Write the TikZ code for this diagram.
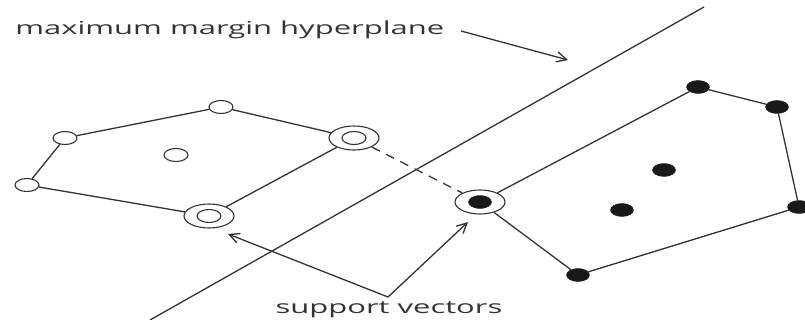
\documentclass[tikz,border=0pt]{standalone}
\usepackage{fontspec}
\setmainfont{Open Sans}
\usetikzlibrary{shapes.geometric,arrows.meta}
\begin{document}
\begin{tikzpicture}[x=1pt,y=-1pt,
  ln/.style={draw=black!80, line width=1.3pt},
  opn/.style={ellipse, draw=black!80, line width=1.1pt, minimum width=24pt, minimum height=13pt, inner sep=0pt},
  fil/.style={ellipse, fill=black!90, draw=black!90, minimum width=23pt, minimum height=13pt, inner sep=0pt},
  ring/.style={ellipse, draw=black!80, line width=1.1pt, minimum width=50pt, minimum height=24pt, inner sep=0pt},
  lbl/.style={font=\fontsize{18}{20}\selectfont, text=black!80, xscale=1.72, inner sep=0pt},
  arr/.style={draw=black!80, line width=1.3pt, -{Straight Barb[length=10pt,width=10pt]}}
]
\useasboundingbox (0,0) rectangle (805,320);
\clip (0,0) rectangle (805,320);
% hyperplane
\coordinate (h1) at (150,320);
\coordinate (h2) at (704,7);
\draw[ln] (h1) -- (h2);
% left class (open points)
\node[opn] (A) at (65,138) {};
\node[opn] (B) at (221,107) {};
\node[opn] (Ci) at (354,138) {};
\node[ring] (C) at (354,138) {};
\node[opn] (Di) at (209,216) {};
\node[ring] (D) at (209,216) {};
\node[opn] (E) at (27,185) {};
\node[opn] (L1) at (176,155) {};
\draw[ln] (E) -- (A) -- (B) -- (C) -- (D) -- (E);
% right class (filled points)
\node[fil] (F) at (698,87) {};
\node[fil] (G) at (777,107) {};
\node[fil] (H) at (799,207) {};
\node[fil] (I) at (578,275) {};
\node[fil] (Ji) at (480,202) {};
\node[ring] (J) at (480,202) {};
\node[fil] (R1) at (664,170) {};
\node[fil] (R2) at (622,210) {};
\draw[ln] (J) -- (F) -- (G) -- (H) -- (I) -- (J);
% margin
\draw[ln, dash pattern=on 9pt off 7pt] (C) -- (J);
% labels
\node[lbl, anchor=base west] (t1) at (15,35) {maximum margin hyperplane};
\coordinate (t1e) at (461,31);
\coordinate (t1t) at (568,60);
\draw[arr] (t1e) -- (t1t);
\node[lbl, anchor=base] (t2) at (389,313) {support vectors};
\coordinate (sv) at (388,297);
\draw[arr] (sv) -- (228,234);
\draw[arr] (sv) -- (468,222);
\end{tikzpicture}
\end{document}
